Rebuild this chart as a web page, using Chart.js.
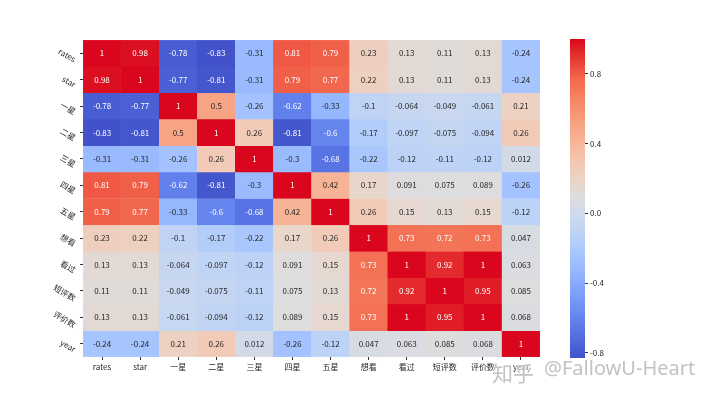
<!DOCTYPE html>
<html>
<head>
<meta charset="utf-8">
<script src="https://cdn.jsdelivr.net/npm/chart.js@4/dist/chart.umd.min.js"></script>
<style>
  html, body { margin: 0; padding: 0; background: #fff; }
  #wrap { position: relative; width: 720px; height: 396px; overflow: hidden; }
  #heat { position: absolute; left: 0; top: 0; }
  #cbar { position: absolute; left: 560px; top: 0; }
  .mark {
    position: absolute; top: 357px; line-height: 21px;
    font: 21px "Noto Sans CJK SC", sans-serif; color: #c2c2c2;
    text-shadow: 0 0 2px #fff, 0 0 2px #fff; white-space: nowrap;
  }
</style>
</head>
<body>
<div id="wrap">
  <canvas id="heat" width="720" height="396"></canvas>
  <canvas id="cbar" width="100" height="396"></canvas>
  <div class="mark" style="left:492px">知乎</div>
  <div class="mark" style="left:544px; line-height:21px; font-family:'Noto Sans', sans-serif; font-size:20px">@FallowU-Heart</div>
</div>
<script>
// --- 데이터 ---
const colLabels = ['rates', 'star', '一星', '二星', '三星', '四星', '五星', '想看', '看过', '短评数', '评价数', 'year'];
const rowLabels = ['rates', 'star', '一星', '二星', '三星', '四星', '五星', '想看', '看过', '短评数', '评价数', 'year'];

const rowRates  = [1, 0.98, -0.78, -0.83, -0.31, 0.81, 0.79, 0.23, 0.13, 0.11, 0.13, -0.24];
const rowStar   = [0.98, 1, -0.77, -0.81, -0.31, 0.79, 0.77, 0.22, 0.13, 0.11, 0.13, -0.24];
const rowStar1  = [-0.78, -0.77, 1, 0.5, -0.26, -0.62, -0.33, -0.1, -0.064, -0.049, -0.061, 0.21];
const rowStar2  = [-0.83, -0.81, 0.5, 1, 0.26, -0.81, -0.6, -0.17, -0.097, -0.075, -0.094, 0.26];
const rowStar3  = [-0.31, -0.31, -0.26, 0.26, 1, -0.3, -0.68, -0.22, -0.12, -0.11, -0.12, 0.012];
const rowStar4  = [0.81, 0.79, -0.62, -0.81, -0.3, 1, 0.42, 0.17, 0.091, 0.075, 0.089, -0.26];
const rowStar5  = [0.79, 0.77, -0.33, -0.6, -0.68, 0.42, 1, 0.26, 0.15, 0.13, 0.15, -0.12];
const rowWant   = [0.23, 0.22, -0.1, -0.17, -0.22, 0.17, 0.26, 1, 0.73, 0.72, 0.73, 0.047];
const rowSeen   = [0.13, 0.13, -0.064, -0.097, -0.12, 0.091, 0.15, 0.73, 1, 0.92, 1, 0.063];
const rowShort  = [0.11, 0.11, -0.049, -0.075, -0.11, 0.075, 0.13, 0.72, 0.92, 1, 0.95, 0.085];
const rowReview = [0.13, 0.13, -0.061, -0.094, -0.12, 0.089, 0.15, 0.73, 1, 0.95, 1, 0.068];
const rowYear   = [-0.24, -0.24, 0.21, 0.26, 0.012, -0.26, -0.12, 0.047, 0.063, 0.085, 0.068, 1];

const corr = [rowRates, rowStar, rowStar1, rowStar2, rowStar3, rowStar4, rowStar5,
              rowWant, rowSeen, rowShort, rowReview, rowYear];
const colorbarTicks = [-0.8, -0.4, 0, 0.4, 0.8];

// 색상 범위 (seaborn 기본: 데이터 최소/최대)
const vmin = Math.min(...corr.flat());
const vmax = Math.max(...corr.flat());

// coolwarm 계열 컬러맵 (원본 이미지가 조금 더 선명해서 양 끝을 밝게 조정)
const coolwarm = [
  [66, 82, 202], [82, 108, 222], [100, 132, 238], [120, 155, 248], [141, 176, 254],
  [163, 194, 255], [184, 208, 249], [204, 217, 238], [221, 221, 222], [236, 211, 197],
  [245, 196, 173], [247, 178, 148], [247, 156, 122], [245, 133, 100], [242, 104, 78],
  [232, 58, 50], [218, 6, 30]
];

function cmapRGB(v) {
  let t = (v - vmin) / (vmax - vmin);
  t = Math.max(0, Math.min(1, t));
  const pos = t * (coolwarm.length - 1);
  const i = Math.min(Math.floor(pos), coolwarm.length - 2);
  const f = pos - i;
  const a = coolwarm[i], b = coolwarm[i + 1];
  return [0, 1, 2].map(k => Math.round(a[k] + (b[k] - a[k]) * f));
}
function cmap(v) {
  const c = cmapRGB(v);
  return `rgb(${c[0]},${c[1]},${c[2]})`;
}
// seaborn 방식: 배경 휘도에 따라 글자색 결정
function textColor(v) {
  const lin = cmapRGB(v).map(c => {
    c /= 255;
    return c <= 0.03928 ? c / 12.92 : Math.pow((c + 0.055) / 1.055, 2.4);
  });
  const lum = 0.2126 * lin[0] + 0.7152 * lin[1] + 0.0722 * lin[2];
  return lum > 0.408 ? '#262626' : '#ffffff';
}

const FONT = '"Noto Sans CJK SC", "DejaVu Sans", sans-serif';

// 셀 안에 숫자 표시
const annotatePlugin = {
  id: 'annotate',
  afterDatasetsDraw(chart) {
    const ctx = chart.ctx;
    ctx.save();
    ctx.font = '8px ' + FONT;
    ctx.textAlign = 'center';
    ctx.textBaseline = 'middle';
    chart.data.datasets.forEach((ds, i) => {
      const meta = chart.getDatasetMeta(i);
      meta.data.forEach((bar, j) => {
        const p = bar.getProps(['x', 'y', 'base'], true);
        const v = corr[i][j];
        ctx.fillStyle = textColor(v);
        ctx.fillText(String(v), p.x, (p.y + p.base) / 2);
      });
    });
    ctx.restore();
  }
};

// y축 라벨: matplotlib처럼 회전된 글자의 외곽 상자를 눈금 중앙에 맞춤
const yLabelPlugin = {
  id: 'yLabels',
  afterDraw(chart) {
    const ctx = chart.ctx;
    const scale = chart.scales.y;
    const ang = Math.PI / 6;
    ctx.save();
    ctx.font = '8px ' + FONT;
    ctx.fillStyle = '#262626';
    ctx.textAlign = 'right';
    ctx.textBaseline = 'middle';
    rowLabels.forEach((name, i) => {
      const y = scale.getPixelForValue(i + 0.5);
      const w = ctx.measureText(name).width;
      const ax = scale.right - 3 - 3 - 2;
      const ay = y + (w / 2) * Math.sin(ang) + 2;
      ctx.save();
      ctx.translate(ax, ay);
      ctx.rotate(ang);
      ctx.fillText(name, 0, 0);
      ctx.restore();
    });
    ctx.restore();
  }
};

// --- 히트맵 ---
new Chart(document.getElementById('heat'), {
  type: 'bar',
  data: {
    labels: colLabels,
    datasets: rowLabels.map((name, i) => ({
      label: name,
      data: colLabels.map(() => [i, i + 1]),
      backgroundColor: corr[i].map(cmap),
      borderColor: corr[i].map(cmap),
      borderWidth: 0.5,
      borderSkipped: false,
      barPercentage: 1,
      categoryPercentage: 1
    }))
  },
  options: {
    responsive: false,
    animation: false,
    layout: { padding: { top: 40, right: 180, left: 0, bottom: 0 } },
    plugins: { legend: { display: false }, tooltip: { enabled: false } },
    scales: {
      x: {
        type: 'category',
        stacked: true,
        offset: true,
        border: { display: false },
        grid: { drawOnChartArea: false, offset: false, tickLength: 3, color: '#333' },
        ticks: { font: { size: 8, family: FONT }, color: '#262626', padding: 2, maxRotation: 0, autoSkip: false },
        afterFit(s) { s.height = 39; }
      },
      y: {
        type: 'linear',
        min: 0,
        max: 12,
        reverse: true,
        stacked: false,
        border: { display: false },
        grid: { drawOnChartArea: false, tickLength: 3, color: '#333' },
        afterBuildTicks(s) { s.ticks = rowLabels.map((_, i) => ({ value: i + 0.5 })); },
        ticks: {
          font: { size: 8, family: FONT },
          color: 'rgba(0,0,0,0)',
          padding: 3,
          callback: (v, idx) => rowLabels[idx]
        },
        afterFit(s) { s.width = 83; }
      }
    }
  },
  plugins: [annotatePlugin, yLabelPlugin]
});

// --- 컬러바 ---
new Chart(document.getElementById('cbar'), {
  type: 'bar',
  data: {
    labels: [''],
    datasets: [{
      data: [[vmin, vmax]],
      backgroundColor(c) {
        const area = c.chart.chartArea;
        if (!area) return '#ddd';
        const g = c.chart.ctx.createLinearGradient(0, area.bottom, 0, area.top);
        coolwarm.forEach((col, k) => g.addColorStop(k / (coolwarm.length - 1), `rgb(${col[0]},${col[1]},${col[2]})`));
        return g;
      },
      borderWidth: 0,
      barPercentage: 1,
      categoryPercentage: 1
    }]
  },
  options: {
    responsive: false,
    animation: false,
    layout: { padding: { top: 39, bottom: 38, left: 10, right: 0 } },
    plugins: { legend: { display: false }, tooltip: { enabled: false } },
    scales: {
      x: { display: false },
      y: {
        position: 'right',
        min: vmin,
        max: vmax,
        border: { display: false },
        grid: { drawOnChartArea: false, tickLength: 3, color: '#333' },
        afterBuildTicks(s) { s.ticks = colorbarTicks.map(v => ({ value: v })); },
        ticks: { font: { size: 8, family: FONT }, color: '#262626', padding: 2, callback: v => v.toFixed(1) },
        afterFit(s) { s.width = 75; }
      }
    }
  }
});
</script>
</body>
</html>
